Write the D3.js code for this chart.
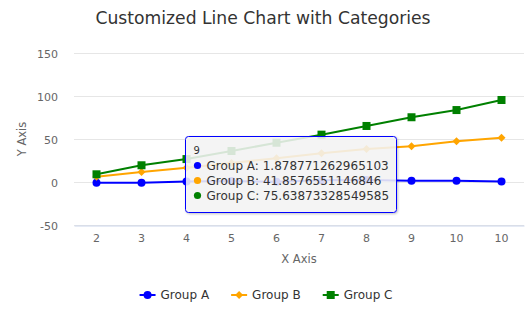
<!DOCTYPE html>
<html><head><meta charset="utf-8">
<script src="https://cdn.jsdelivr.net/npm/d3@7/dist/d3.min.js"></script>
<style>
html,body{margin:0;padding:0;background:#fff;}
svg{display:block;font-family:"DejaVu Sans",Verdana,sans-serif;}
</style></head>
<body><svg id="c" width="532" height="323"></svg>
<script>
const categories = ["2","3","4","5","6","7","8","9","10","10"];
const groupA = [-0.6, -0.5, 0.9, 1.4, 0.6, 2.3, 2.7, 1.878771262965103, 1.8, 0.9];
const groupB = [6.5, 12, 17, 22.5, 28, 33.7, 38.7, 41.8576551146846, 47.7, 51.9];
const groupC = [9.3, 19.8, 27, 36.4, 46, 55.4, 65.5, 75.63873328549585, 84, 95.7];
const yTicks = [-50, 0, 50, 100, 150];
const seriesNames = ["Group A", "Group B", "Group C"];
const seriesColors = ["#0000ff", "#ffa500", "#008000"];
const seriesMarkers = ["circle", "diamond", "square"];
const hoverIndex = 7;

const series = [groupA, groupB, groupC].map((v, i) => ({name: seriesNames[i], values: v, color: seriesColors[i], marker: seriesMarkers[i]}));

const svg = d3.select("#c");
const L = 74, R = 524, T = 53.3, B = 225.3;
const x = d3.scaleBand().domain(d3.range(categories.length)).range([L, R]);
const y = d3.scaleLinear().domain([-50, 150]).range([B, T]);

svg.append("text").attr("x", 263).attr("y", 24).attr("text-anchor", "middle")
  .attr("fill", "#333").attr("font-size", 17.2).text("Customized Line Chart with Categories");

// grid
svg.append("g").selectAll("line").data(yTicks).join("line")
  .attr("x1", L).attr("x2", R).attr("y1", d => Math.round(y(d)) + 0.5).attr("y2", d => Math.round(y(d)) + 0.5)
  .attr("stroke", "#e6e6e6");

// y axis labels
const yAxis = d3.axisLeft(y).tickValues(yTicks).tickSize(0).tickPadding(0).tickFormat(d => String(d));
const gy = svg.append("g").attr("transform", `translate(58,0)`).call(yAxis);
gy.select(".domain").remove();
gy.selectAll("text").attr("fill", "#666").attr("font-size", 11).attr("font-family", "DejaVu Sans").attr("dy", "0.35em");

// x axis
const xAxis = d3.axisBottom(x).tickFormat(i => categories[i]).tickSize(0).tickPadding(9);
const gx = svg.append("g").attr("transform", `translate(0,${Math.round(B)+0.5})`).call(xAxis);
gx.select(".domain").attr("stroke", "#ccd6eb");
gx.selectAll("text").attr("fill", "#666").attr("font-size", 11).attr("font-family", "DejaVu Sans");

// axis titles
svg.append("text").attr("transform", "translate(26,139) rotate(-90)").attr("text-anchor", "middle")
  .attr("fill", "#666").attr("font-size", 11.5).text("Y Axis");
svg.append("text").attr("x", 299).attr("y", 263).attr("text-anchor", "middle")
  .attr("fill", "#666").attr("font-size", 11.5).text("X Axis");

const cx = i => x(i) + x.bandwidth() / 2;
const line = d3.line().x((d, i) => cx(i)).y(d => y(d));

function drawMarker(g, type, color, px, py) {
  if (type === "circle") g.append("circle").attr("cx", px).attr("cy", py).attr("r", 4).attr("fill", color);
  else if (type === "square") g.append("rect").attr("x", px - 4).attr("y", py - 4).attr("width", 8).attr("height", 8).attr("fill", color);
  else g.append("path").attr("d", `M${px},${py-4}L${px+4},${py}L${px},${py+4}L${px-4},${py}Z`).attr("fill", color);
}

const gs = svg.append("g");
series.forEach(s => {
  const g = gs.append("g");
  g.append("path").attr("d", line(s.values)).attr("fill", "none").attr("stroke", s.color).attr("stroke-width", 2);
  s.values.forEach((v, i) => drawMarker(g, s.marker, s.color, cx(i), y(v)));
});

// legend
const lg = svg.append("g");
let lx = 0;
series.forEach(s => {
  const it = lg.append("g").attr("transform", `translate(${lx},0)`);
  it.append("line").attr("x1", 0).attr("x2", 16).attr("y1", 0).attr("y2", 0).attr("stroke", s.color).attr("stroke-width", 2);
  drawMarker(it, s.marker, s.color, 8, 0);
  const t = it.append("text").attr("x", 21).attr("y", 0).attr("dy", "0.35em").attr("fill", "#333")
    .attr("font-size", 12).text(s.name);
  lx += 21 + t.node().getComputedTextLength() + 22;
});
const totalW = lx - 22;
lg.attr("transform", `translate(${266 - totalW / 2},295)`);

// tooltip
const defs = svg.append("defs");
const f = defs.append("filter").attr("id", "sh").attr("x", "-10%").attr("y", "-10%").attr("width", "130%").attr("height", "140%");
f.append("feDropShadow").attr("dx", 1).attr("dy", 1).attr("stdDeviation", 1.2).attr("flood-color", "#000").attr("flood-opacity", 0.25);
const tt = svg.append("g").attr("transform", "translate(185.5,136.5)");
tt.append("rect").attr("width", 211).attr("height", 76).attr("rx", 3)
  .attr("fill", "rgba(247,247,247,0.85)").attr("stroke", "#0000ff").attr("stroke-width", 1).attr("filter", "url(#sh)");
tt.append("text").attr("x", 8).attr("y", 17).attr("font-size", 10).attr("fill", "#333").text(categories[hoverIndex]);
series.forEach((s, k) => {
  const ty = 29 + k * 15;
  tt.append("circle").attr("cx", 12).attr("cy", ty).attr("r", 3.6).attr("fill", s.color);
  const t = tt.append("text").attr("x", 21).attr("y", ty).attr("dy", "0.35em").attr("font-size", 12).attr("fill", "#333");
  t.append("tspan").text(s.name + ": ");
  t.append("tspan").text(String(s.values[hoverIndex]));
});
</script></body></html>
